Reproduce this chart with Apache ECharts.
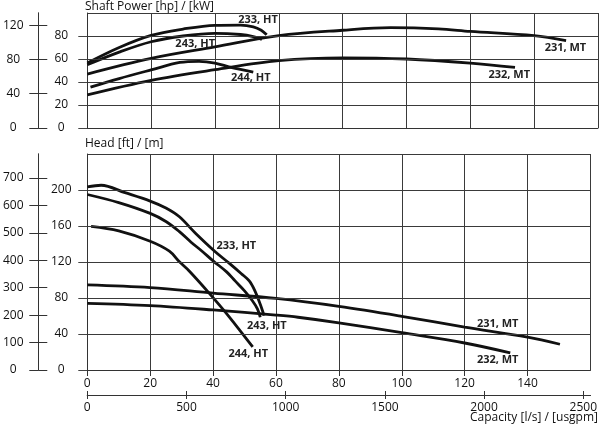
<!DOCTYPE html>
<html style="height: 100%">
<head>
    <meta charset="utf-8">
    <script src="https://cdn.jsdelivr.net/npm/echarts@6/dist/echarts.min.js"></script>
    <title>Pump curves</title>
</head>
<body style="height: 100%; margin: 0; background: #fff">
<div id="container" style="width: 600px; height: 429px"></div>
<script type="text/javascript">
// capacity in l/s, power in kW, head in m
let power231 = [[0,46.9],[20,60.5],[40,70.5],[60,80.3],[80,85],[95,87.2],[110,86.2],[120,84],[140,80.3],[150,76]]
let power232 = [[0,28.8],[20,41.5],[40,50.7],[60,58.5],[80,61],[100,60],[120,56.5],[134,52.7]]
let power233 = [[0,56.5],[10,70],[20,80.5],[30,86],[40,89.3],[48,89.5],[52,88],[54.5,85],[56.2,81]]
let power243 = [[0,55],[10,66],[20,75],[30,80],[40,82.3],[48,81.3],[52,79.5],[54.7,77]]
let power244 = [[1,35.5],[10,43],[20,50.5],[29,57],[35,58],[40,56.5],[45,52.7],[52,48.6]]

let head231 = [[0,94.6],[20,91.6],[40,85.4],[60,79.5],[80,70.7],[100,59.7],[120,47.6],[140,36.6],[150.3,28.6]]
let head232 = [[0,74],[20,71.5],[40,66.7],[60,61],[67,58.6],[80,52.4],[100,41.4],[120,30],[134.5,19]]
let head233 = [[0,203.4],[4.4,205.3],[12,197],[20,187.7],[25,180],[29.2,170.5],[34.4,152],[40.5,132],[45,119],[49,107],[51.5,99],[53.3,88],[55,73],[56.2,60.5]]
let head243 = [[0,195],[10,186],[20,174],[25,165],[29.2,154],[33,142],[36.5,132],[40.1,121],[44.3,109],[47,99],[50,88],[52.5,77],[54.1,68],[55,58.6]]
let head244 = [[1.2,159.5],[10,154.5],[20,143],[26.1,132],[29.2,120.5],[32.4,110],[38.6,86],[44.8,60.5],[52.6,25.6]]

// label anchor points [l/s, value]
let powerLabels = {
    '231, MT': [149.8, 69.9], '232, MT': [132.2, 46.3], '233, HT': [53.5, 94],
    '243, HT': [33.8, 73.4], '244, HT': [51.2, 43.7]
}
let headLabels = {
    '231, MT': [130.5, 51.7], '232, MT': [130.5, 11], '233, HT': [47.4, 137.5],
    '243, HT': [57.1, 49.5], '244, HT': [51.2, 17.6]
}

let kwTicks = [0, 20, 40, 60, 80]
let hpTicks = [0, 40, 80, 120]
let mTicks = [0, 40, 80, 120, 160, 200]
let ftTicks = [0, 100, 200, 300, 400, 500, 600, 700]
let usgpmTicks = [0, 500, 1000, 1500, 2000, 2500]
let kwGrid = [20, 40, 60, 80, 100]
let mGrid = [40, 80, 120, 160, 200, 240]

const FONT = 'Open Sans'
const LS_TO_USGPM = 15.8503
const KW_TO_HP = 1.341
const M_TO_FT = 3.2808
const PLOT_W = 512

function curve(name, data, xi, yi, labels, hGrid) {
    let s = {
        type: 'line', name: name, data: data,
        xAxisIndex: xi, yAxisIndex: yi,
        smooth: 0.35, showSymbol: false, silent: true,
        lineStyle: {color: '#111', width: 2.8},
        markPoint: {
            symbolSize: 0, silent: true,
            data: [{coord: labels[name], value: name}],
            label: {
                show: true, position: 'inside', formatter: name,
                color: '#222', fontFamily: FONT, fontWeight: 'bold', fontSize: 11
            }
        }
    }
    if (hGrid) {
        // horizontal grid lines
        s.markLine = {
            silent: true, symbol: 'none', animation: false,
            label: {show: false},
            lineStyle: {color: '#3a3a3a', width: 1, type: 'solid'},
            data: hGrid.map(v => ({yAxis: v}))
        }
    }
    return s
}

function axisLine() {
    return {show: true, onZero: false, lineStyle: {color: '#333', width: 1}}
}
function label(extra) {
    return Object.assign({color: '#111', fontFamily: FONT, fontSize: 12, formatter: v => String(v)}, extra)
}
// bare x axis that only draws the vertical grid lines
function gridAxisX(gridIndex, max, interval) {
    return {
        gridIndex: gridIndex, type: 'value', position: 'bottom', min: 0, max: max, interval: interval,
        axisLine: {show: false}, axisTick: {show: false}, axisLabel: {show: false},
        splitLine: {show: true, lineStyle: {color: '#3a3a3a', width: 1}}
    }
}

let chart = echarts.init(document.getElementById('container'), null, {renderer: 'canvas'})
chart.setOption({
    animation: false,
    title: [
        {text: 'Shaft Power [hp] / [kW]', left: 85, top: 1, padding: 0,
         textStyle: {fontFamily: FONT, fontSize: 12, fontWeight: 'normal', color: '#111'}},
        {text: 'Head [ft] / [m]', left: 85, top: 138, padding: 0,
         textStyle: {fontFamily: FONT, fontSize: 12, fontWeight: 'normal', color: '#111'}},
        {text: 'Capacity [l/s] / [usgpm]', right: 2, top: 412, padding: 0,
         textStyle: {fontFamily: FONT, fontSize: 12, fontWeight: 'normal', color: '#111'}}
    ],
    grid: [
        {left: 86, top: 13, width: PLOT_W, height: 115},
        {left: 86, top: 154, width: PLOT_W, height: 216}
    ],
    xAxis: [
        {gridIndex: 0, type: 'value', position: 'bottom', min: 0, max: 160, interval: 20,
         axisLine: axisLine(), axisTick: {show: false}, axisLabel: {show: false}, splitLine: {show: false}},
        {gridIndex: 1, type: 'value', position: 'bottom', min: 0, max: 160, interval: 20,
         axisLine: axisLine(), axisTick: {show: true, length: 6, lineStyle: {color: '#333'}},
         axisLabel: label({margin: 8, showMaxLabel: false}), splitLine: {show: false}},
        {gridIndex: 1, type: 'value', position: 'bottom', min: 0, max: 160 * LS_TO_USGPM, interval: 500, offset: 25,
         axisLine: axisLine(), axisTick: {show: true, length: 4, customValues: usgpmTicks, lineStyle: {color: '#333'}},
         axisLabel: label({margin: 7, customValues: usgpmTicks}), splitLine: {show: false}},
        {gridIndex: 1, type: 'value', position: 'bottom', min: 0, max: 160 * LS_TO_USGPM, interval: 500, offset: 25,
         axisLine: axisLine(), axisTick: {show: true, inside: true, length: 4, customValues: usgpmTicks, lineStyle: {color: '#333'}},
         axisLabel: {show: false}, splitLine: {show: false}},
        gridAxisX(0, 160, 20),
        gridAxisX(1, 160, 20)
    ],
    yAxis: [
        {gridIndex: 0, type: 'value', position: 'left', min: 0, max: 100, interval: 20,
         axisLine: axisLine(), axisTick: {show: true, length: 9, customValues: kwTicks, lineStyle: {color: '#444'}},
         axisLabel: label({margin: 26, align: 'center', customValues: kwTicks}),
         splitLine: {show: true, lineStyle: {color: '#3a3a3a', width: 1}}},
        {gridIndex: 0, type: 'value', position: 'left', min: 0, max: 100 * KW_TO_HP, offset: 49,
         axisLine: axisLine(), axisTick: {show: true, length: 9, customValues: hpTicks, lineStyle: {color: '#333'}},
         axisLabel: label({margin: 25, align: 'center', customValues: hpTicks}), splitLine: {show: false}},
        {gridIndex: 0, type: 'value', position: 'left', min: 0, max: 100 * KW_TO_HP, offset: 49,
         axisLine: axisLine(), axisTick: {show: true, inside: true, length: 9, customValues: hpTicks, lineStyle: {color: '#333'}},
         axisLabel: {show: false}, splitLine: {show: false}},
        {gridIndex: 1, type: 'value', position: 'left', min: 0, max: 240, interval: 40,
         axisLine: axisLine(), axisTick: {show: true, length: 9, customValues: mTicks, lineStyle: {color: '#444'}},
         axisLabel: label({margin: 26, align: 'center', customValues: mTicks}),
         splitLine: {show: true, lineStyle: {color: '#3a3a3a', width: 1}}},
        {gridIndex: 1, type: 'value', position: 'left', min: 0, max: 240 * M_TO_FT, offset: 49,
         axisLine: axisLine(), axisTick: {show: true, length: 9, customValues: ftTicks, lineStyle: {color: '#333'}},
         axisLabel: label({margin: 25, align: 'center', customValues: ftTicks}), splitLine: {show: false}},
        {gridIndex: 1, type: 'value', position: 'left', min: 0, max: 240 * M_TO_FT, offset: 49,
         axisLine: axisLine(), axisTick: {show: true, inside: true, length: 9, customValues: ftTicks, lineStyle: {color: '#333'}},
         axisLabel: {show: false}, splitLine: {show: false}}
    ],
    series: [
        curve('231, MT', power231, 0, 0, powerLabels, kwGrid),
        curve('232, MT', power232, 0, 0, powerLabels),
        curve('233, HT', power233, 0, 0, powerLabels),
        curve('243, HT', power243, 0, 0, powerLabels),
        curve('244, HT', power244, 0, 0, powerLabels),
        curve('231, MT', head231, 1, 3, headLabels, mGrid),
        curve('232, MT', head232, 1, 3, headLabels),
        curve('233, HT', head233, 1, 3, headLabels),
        curve('243, HT', head243, 1, 3, headLabels),
        curve('244, HT', head244, 1, 3, headLabels)
    ]
}, true)
</script>
</body>
</html>
